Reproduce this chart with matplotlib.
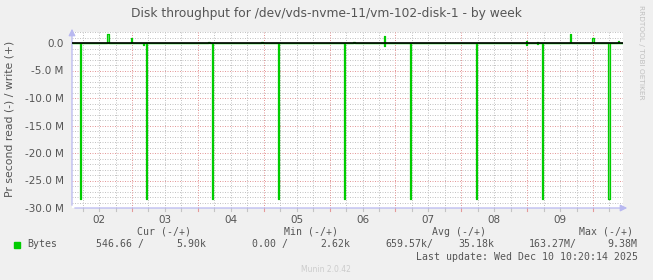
import matplotlib
matplotlib.use("Agg")
import matplotlib.pyplot as plt
from matplotlib.transforms import blended_transform_factory

# ---------------- data ----------------
title = "Disk throughput for /dev/vds-nvme-11/vm-102-disk-1 - by week"
ylabel = "Pr second read (-) / write (+)"
day_labels = ["02", "03", "04", "05", "06", "07", "08", "09"]
day_numbers = [2, 3, 4, 5, 6, 7, 8, 9]
y_ticks = [0, -5e6, -10e6, -15e6, -20e6, -25e6, -30e6]
y_tick_labels = ["0.0", "-5.0 M", "-10.0 M", "-15.0 M", "-20.0 M", "-25.0 M", "-30.0 M"]

# time in days of December (2.5 = Dec 2, 12:00), values in bytes/s
read_t = [2.218, 3.178, 3.220, 4.222, 5.224, 6.231, 6.831, 7.233, 8.235, 8.990, 9.160, 9.237, 10.240]
read_v = [28.4e6, 0.3e6, 28.4e6, 28.4e6, 28.4e6, 28.4e6, 0.5e6, 28.4e6, 28.4e6, 0.35e6, 0.2e6, 28.4e6, 28.4e6]
write_t = [2.636, 2.989, 4.169, 4.974, 6.371, 6.831, 8.990, 9.160, 9.658, 10.000, 10.387]
write_v = [1.64e6, 0.97e6, 0.2e6, 0.2e6, 0.25e6, 1.27e6, 0.3e6, 0.25e6, 1.7e6, 0.9e6, 0.3e6]

series_name = "Bytes"
legend_headers = ["Cur (-/+)", "Min (-/+)", "Avg (-/+)", "Max (-/+)"]
legend_read = ["546.66 /", "0.00 /", "659.57k/", "163.27M/"]
legend_write = ["5.90k", "2.62k", "35.18k", "9.38M"]
last_update = "Last update: Wed Dec 10 10:20:14 2025"

# ---------------- style ----------------
W, H = 653, 280
BG = "#f0f0f0"
GREEN = "#00cc00"
TXT = "#555555"
MAJ = "#e49a9a"
MINC = "#c4c4c4"
AXC = "#b8b8f0"

t0, t1 = 2.089, 10.455
ymin, ymax = -30e6, 2e6

fig = plt.figure(figsize=(W / 100, H / 100), dpi=100, facecolor=BG)
L, R, T, B = 72, 623, 32, 208
ax = fig.add_axes([L / W, 1 - B / H, (R - L) / W, (B - T) / H])
ax.set_facecolor("white")
ax.set_xlim(t0, t1)
ax.set_ylim(ymin, ymax)
for s in ax.spines.values():
    s.set_visible(False)

dot = (0, (1, 1.5))
# grid
for k in range(int(ymin / 1e6), int(ymax / 1e6) + 1):
    v = k * 1e6
    if k % 5 == 0:
        ax.axhline(v, color=MAJ, lw=0.72, ls=dot, zorder=1)
    else:
        ax.axhline(v, color=MINC, lw=0.72, ls=dot, zorder=1)
q = 2.0
while q <= t1:
    if q >= t0:
        if abs(q - round(q)) < 1e-6:
            ax.axvline(q, color=MAJ, lw=0.72, ls=dot, zorder=1)
        else:
            ax.axvline(q, color=MINC, lw=0.72, ls=dot, zorder=1)
    q += 0.25

# series as step paths
w = 1.0 / 48


def path(ts, vs, sign):
    xs, ys = [t0], [0]
    for t, v in sorted(zip(ts, vs)):
        xs += [t - w / 2, t - w / 2, t + w / 2, t + w / 2]
        ys += [0, sign * v, sign * v, 0]
    xs.append(t1)
    ys.append(0)
    return xs, ys


rx, ry = path(read_t, read_v, -1)
wx, wy = path(write_t, write_v, 1)
ax.fill(rx, ry, color="#7fe07f", lw=0, zorder=2)
ax.fill(wx, wy, color="#7fe07f", lw=0, zorder=2)
ax.plot(rx, ry, color=GREEN, lw=0.9, zorder=3)
ax.plot(wx, wy, color=GREEN, lw=0.9, zorder=3)
ax.axhline(0, color="black", lw=1.2, zorder=4)

# ticks
ax.set_yticks(y_ticks)
ax.set_yticklabels(y_tick_labels)
ax.set_xticks([d + 0.5 for d in day_numbers])
ax.set_xticklabels(day_labels)
ax.tick_params(axis="both", length=0, labelsize=7.5, labelcolor=TXT)
ax.tick_params(axis="y", pad=6)
ax.tick_params(axis="x", pad=5)

# axis lines with arrows
ax.annotate("", xy=(0, 1 + 6 / (B - T)), xytext=(0, 0), xycoords="axes fraction",
            arrowprops=dict(arrowstyle="-|>,head_length=0.4,head_width=0.2", color=AXC, lw=0.9),
            annotation_clip=False)
ax.annotate("", xy=(1 + 7 / (R - L), 0), xytext=(0, 0), xycoords="axes fraction",
            arrowprops=dict(arrowstyle="-|>,head_length=0.4,head_width=0.2", color=AXC, lw=0.9),
            annotation_clip=False)

# small tick marks below x axis
bt = blended_transform_factory(ax.transData, ax.transAxes)
q = 2.0
while q <= t1:
    if q >= t0:
        c = MAJ if abs(q - round(q)) < 1e-6 else MINC
        ax.plot([q, q], [0, -3 / (B - T)], color=c, lw=0.8, transform=bt, clip_on=False)
    q += 0.25

# texts
fig.text(326 / W, 1 - 13 / H, title, ha="center", va="center", fontsize=8.8, color=TXT)
fig.text(10 / W, 1 - 119 / H, ylabel, ha="center", va="center", rotation=90, fontsize=7.8, color=TXT)
fig.text(641 / W, 1 - 5 / H, "RRDTOOL / TOBI OETIKER", ha="center", va="top", rotation=270,
         fontsize=5.3, color="#c0c0c0")
fig.text(326 / W, 1 - 269 / H, "Munin 2.0.42", ha="center", va="center", fontsize=5.5, color="#cccccc")

mono = dict(family="DejaVu Sans Mono", fontsize=7.1, color=TXT, va="center")
hdr_x = [137, 284, 432, 579]
for x, s in zip(hdr_x, legend_headers):
    fig.text(x / W, 1 - 232 / H, s, ha="left", **mono)
fig.patches.append(plt.Rectangle((14 / W, 1 - 247.5 / H), 6 / W, 6 / H, color=GREEN,
                                 transform=fig.transFigure, figure=fig))
fig.text(27 / W, 1 - 244.3 / H, series_name, ha="left", **mono)
read_x = [144, 288, 433.5, 577]
write_x = [206, 350.7, 494.3, 637.7]
for x, s in zip(read_x, legend_read):
    fig.text(x / W, 1 - 244.3 / H, s, ha="right", **mono)
for x, s in zip(write_x, legend_write):
    fig.text(x / W, 1 - 244.3 / H, s, ha="right", **mono)
fig.text(638 / W, 1 - 256.7 / H, last_update, ha="right", **mono)

fig.savefig("out.png", dpi=100, facecolor=BG)
